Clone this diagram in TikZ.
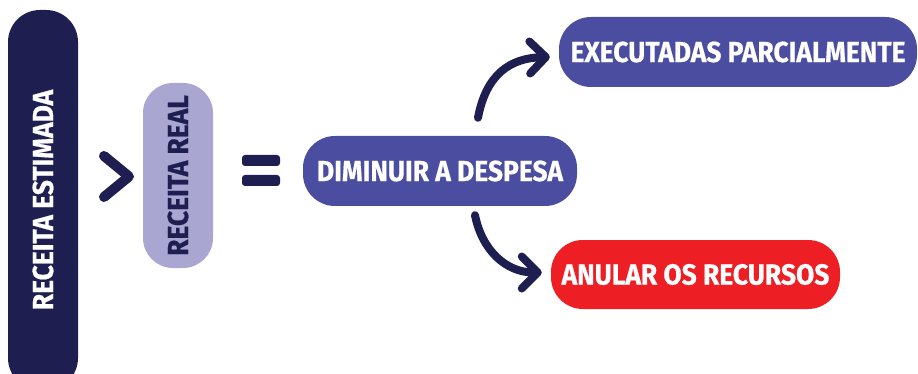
\documentclass[tikz,border=0pt]{standalone}
\usepackage{fontspec}
\setmainfont{Fira Sans}[FakeStretch=0.91, BoldFeatures={FakeBold=0.6}]
\usetikzlibrary{arrows.meta,calc}
\definecolor{navy}{HTML}{1E1F50}
\definecolor{purp}{HTML}{4B4DA0}
\definecolor{lilac}{HTML}{AAA6D2}
\definecolor{redbox}{HTML}{ED1F24}
\begin{document}
\begin{tikzpicture}[x=1pt,y=-1pt,
  pill/.style={rounded corners=32pt, inner sep=0pt, font=\bfseries\fontsize{29}{29}\selectfont},
  conn/.style={navy, line width=8pt, line cap=round, -{Straight Barb[length=16pt,width=32pt,round]}},
  symb/.style={navy, line width=10pt, line cap=round, line join=round}]
\useasboundingbox (0,0) rectangle (918,374);
\clip (0,0) rectangle (918,374);
% left column boxes
\node[pill, rotate=90, fill=navy, text=white, minimum width=380pt, minimum height=70pt] (est) at (43,200) {RECEITA ESTIMADA};
\node[pill, rotate=90, rounded corners=30pt, fill=lilac, text=navy, minimum width=185pt, minimum height=70pt] (real) at (178,175.5) {RECEITA REAL};
% greater-than sign
\draw[symb] (104,156) -- (129,176.5) -- (104,197);
% equals sign
\fill[navy, rounded corners=3pt] (242,155) rectangle (280,166);
\fill[navy, rounded corners=3pt] (242,175) rectangle (280,186);
% right boxes
\node[pill, fill=purp, text=white, minimum width=274pt, minimum height=70pt] (dim) at (440,171) {DIMINUIR A DESPESA};
\node[pill, fill=purp, text=white, minimum width=358pt, minimum height=70pt] (exe) at (738,52) {EXECUTADAS PARCIALMENTE};
\node[pill, fill=redbox, text=white, minimum width=289pt, minimum height=69pt] (anu) at (695.5,274.5) {ANULAR OS RECURSOS};
% connectors
\coordinate (a1s) at ($(dim.north)+(38,-18)$);
\coordinate (a1e) at ($(exe.west)+(-9,5)$);
\coordinate (a2s) at ($(dim.south)+(35,9)$);
\coordinate (a2e) at ($(anu.west)+(-9,-2)$);
\draw[conn] (a1s) .. controls +(8,-43) and +(-40,1) .. (a1e);
\draw[conn] (a2s) .. controls +(7,35) and +(-36,0) .. (a2e);
\end{tikzpicture}
\end{document}
